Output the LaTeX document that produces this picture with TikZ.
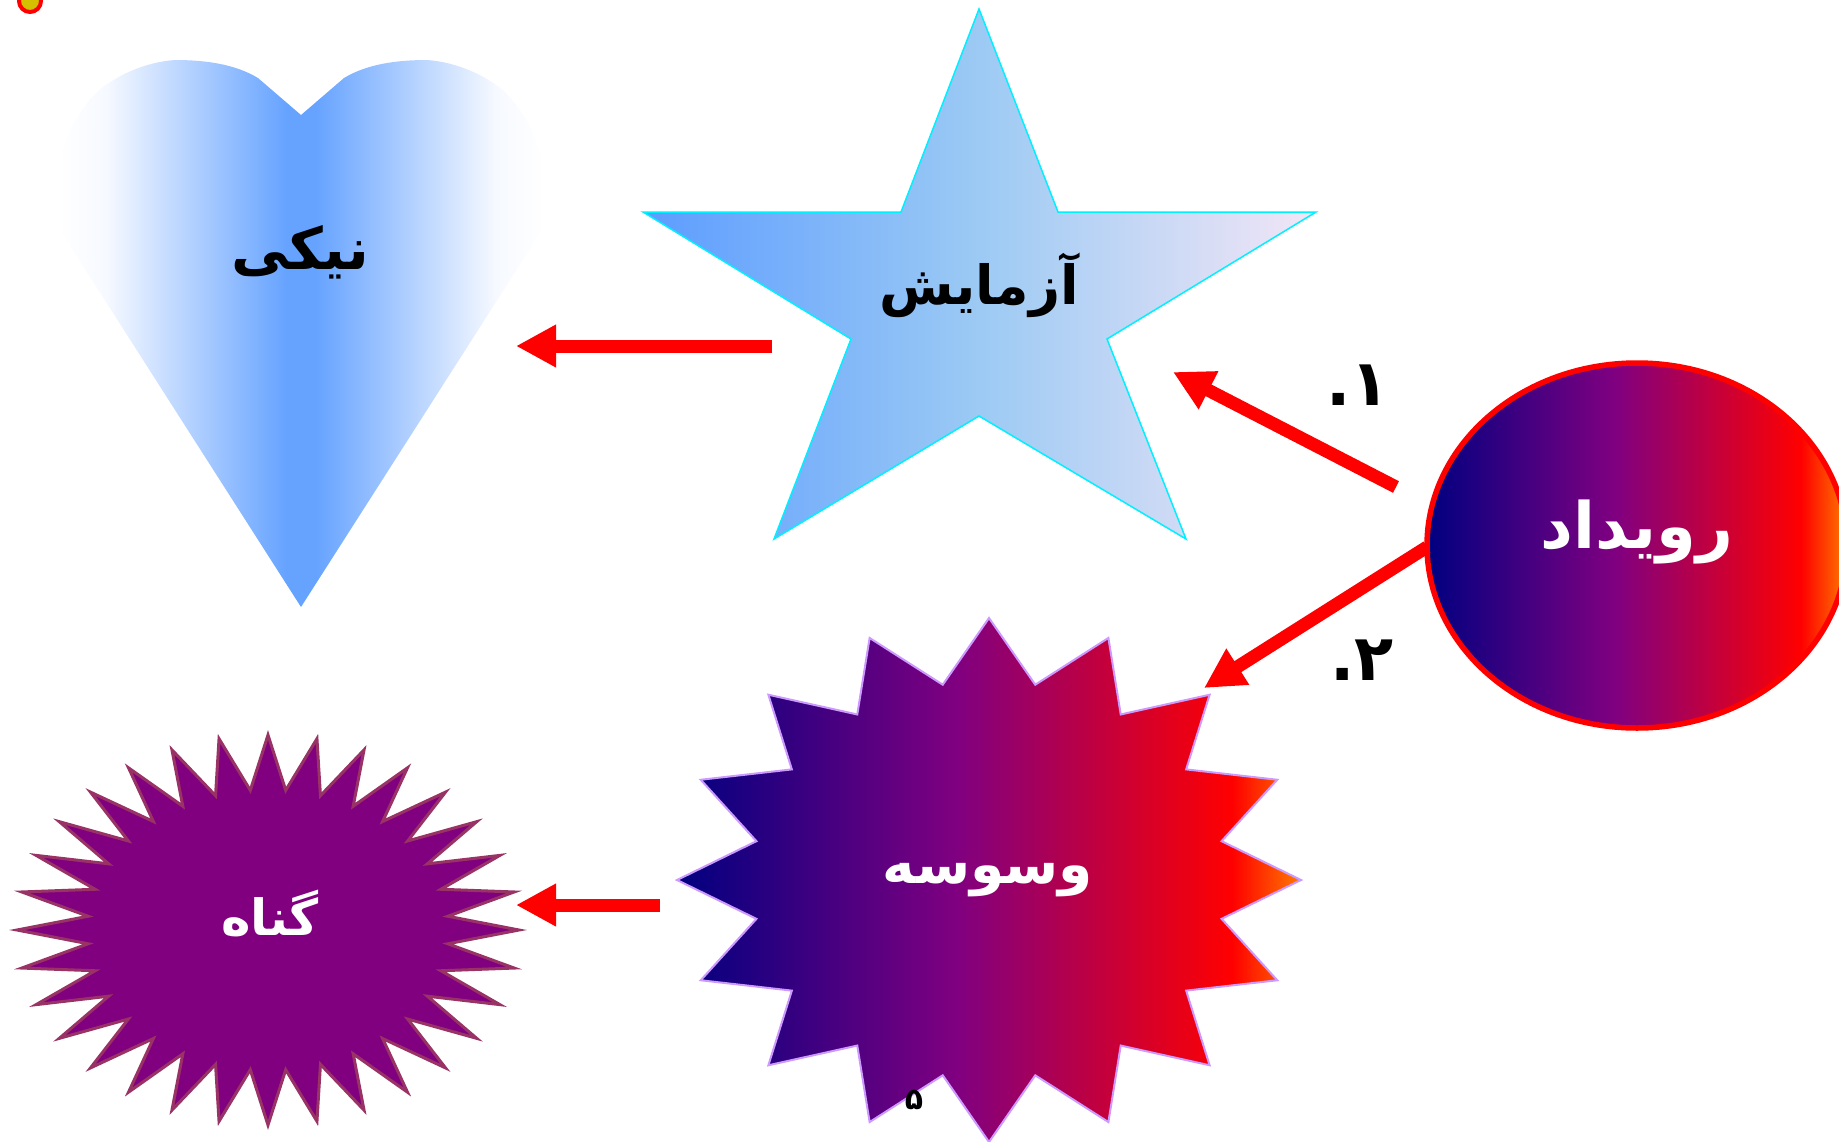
\documentclass[tikz,border=0pt]{standalone}
\usepackage{fontspec}
\usetikzlibrary{arrows.meta}
\TeXXeTstate=1
\newfontfamily\fa[Script=Arabic]{DejaVu Sans Bold}
\definecolor{hblue}{HTML}{66A3FF}
\definecolor{hwhite}{HTML}{F6F9FF}
\definecolor{stleft}{HTML}{5C9CFF}
\definecolor{stmid}{HTML}{9CCAF4}
\definecolor{stright}{HTML}{F3E6F6}
\definecolor{fnavy}{HTML}{000080}
\definecolor{fpurple}{HTML}{800080}
\definecolor{fred}{HTML}{FF0000}
\definecolor{forange}{HTML}{FF7A00}
\definecolor{sinpurple}{HTML}{800080}
\definecolor{sinedge}{HTML}{993366}
\definecolor{vedge}{HTML}{CC99FF}
\definecolor{stedge}{HTML}{00F0FF}
\definecolor{dotfill}{HTML}{D4BF00}
\pgfdeclarehorizontalshading{heartsh}{100bp}{color(0bp)=(white); color(25bp)=(white); color(30bp)=(hwhite); color(48.5bp)=(hblue); color(51.5bp)=(hblue); color(70bp)=(hwhite); color(75bp)=(white); color(100bp)=(white)}
\pgfdeclarehorizontalshading{starsh}{100bp}{color(0bp)=(stleft); color(25bp)=(stleft); color(50bp)=(stmid); color(75bp)=(stright); color(100bp)=(stright)}
\pgfdeclarehorizontalshading{firesh}{100bp}{color(0bp)=(fnavy); color(25bp)=(fnavy); color(47.5bp)=(fpurple); color(69.5bp)=(fred); color(75bp)=(forange); color(100bp)=(forange)}
\tikzset{
  lbl/.style={inner sep=0pt, font=\fa\fontsize{#1}{#1}\selectfont},
  num/.style={inner sep=0pt, font=\fa\fontsize{64}{70}\selectfont, text=black},
  arr/.style={draw=red, line width=13pt, -{Triangle[length=40pt,width=40pt]}, fill=red},
}
\begin{document}
\begin{tikzpicture}[x={(1pt,0)}, y={(0,-1pt)}]
\useasboundingbox (0,0) rectangle (1839,1141);
\clip (0,0) rectangle (1839,1141);
% small dot top-left
\draw[red, line width=4pt, fill=dotfill] (30,1) circle (11);
% heart
\shade[shading=heartsh] (301,115) -- (258,78) .. controls (235,64) and (205,60) .. (175,60)
  .. controls (145,62) and (115,76) .. (97,92) .. controls (72,118) and (58,150) .. (58,185)
  -- (58,227) -- (301,607) -- (544,227) -- (544,185)
  .. controls (544,150) and (530,118) .. (505,92) .. controls (487,76) and (457,62) .. (427,60)
  .. controls (397,60) and (367,64) .. (344,78) -- cycle;
\node[lbl=58, text=black] (neki) at (300,252) {\beginR نیکی\endR};
% five-point star
\shadedraw[shading=starsh, draw=stedge, line width=1.5pt]
  (979,9) -- (1058,212) -- (1316,212) -- (1107,339) -- (1186,539) -- (979,416)
  -- (774,539) -- (851,339) -- (643,212) -- (901,212) -- cycle;
\node[lbl=54, text=black] (azm) at (979,285) {\beginR آزمایش\endR};
% event ellipse
\shadedraw[shading=firesh, draw=red, line width=5.5pt] (1637,545.5) ellipse [x radius=210, y radius=182.5];
\node[lbl=64, text=white] (rvd) at (1637,532) {\beginR رویداد\endR};
% vosvase star (16 points)
\shadedraw[shading=firesh, draw=vedge, line width=2pt]
  plot[samples at={0,...,31}, variable=\k]
  ({989+(1-0.24*mod(\k,2))*312*sin(\k*11.25)}, {880-(1-0.24*mod(\k,2))*262*cos(\k*11.25)}) -- cycle;
\node[lbl=55, text=white] (vsv) at (988,880) {\beginR وسوسه\endR};
\node[inner sep=0pt, font=\fa\fontsize{30}{34}\selectfont] (five) at (914,1100) {۵};
% gonah star (32 points)
\draw[fill=sinpurple, draw=sinedge, line width=3pt]
  plot[samples at={0,...,63}, variable=\k]
  ({268+(1-0.28*mod(\k,2))*251*sin(\k*5.625)}, {930-(1-0.28*mod(\k,2))*195*cos(\k*5.625)}) -- cycle;
\node[lbl=50, text=white] (gnh) at (270,913) {\beginR گناه\endR};
% arrow end points
\coordinate (azmL) at (772,346);
\coordinate (nekiR) at (516,346);
\coordinate (vsvL) at (660,905);
\coordinate (gnhR) at (516,905);
\coordinate (rvdA) at (1396,487);
\coordinate (azmR) at (1173,372);
\coordinate (rvdB) at (1427,547);
\coordinate (vsvR) at (1204,688);
\draw[arr] (azmL) -- (nekiR);
\draw[arr] (vsvL) -- (gnhR);
\draw[arr] (rvdA) -- (azmR);
\draw[arr] (rvdB) -- (vsvR);
% labels
\node[num] (n1) at (1358,385) {\beginR ۱.\endR};
\node[num] (n2) at (1362,660) {\beginR ۲.\endR};
\end{tikzpicture}
\end{document}
